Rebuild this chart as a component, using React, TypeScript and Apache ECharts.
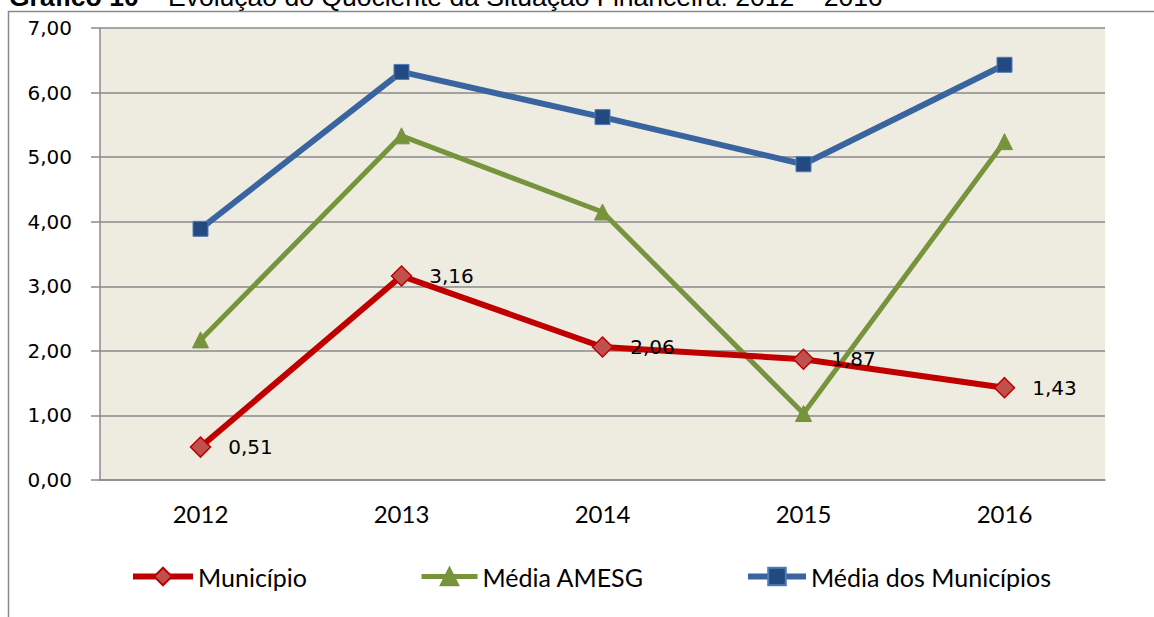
import React, { useEffect, useRef } from "react";
import * as echarts from "echarts";

const categories = ["2012", "2013", "2014", "2015", "2016"];
const municipio = [0.51, 3.16, 2.06, 1.87, 1.43];
const mediaAmesg = [2.17, 5.33, 4.15, 1.03, 5.24];
const mediaMunicipios = [3.89, 6.32, 5.62, 4.89, 6.43];
const seriesNames = ["Município", "Média AMESG", "Média dos Municípios"];

const fmt = (v: number) => v.toFixed(2).replace(".", ",");

export default function App() {
  const ref = useRef<HTMLDivElement>(null);
  useEffect(() => {
    if (!ref.current) return;
    const chart = echarts.init(ref.current, null, { renderer: "svg" });
    const legendText = { fontFamily: "Lato", fontSize: 25, color: "#000" };
    const legendBase = { top: 559, itemHeight: 22, itemGap: 0, textStyle: legendText };
    chart.setOption({
      animation: false,
      backgroundColor: "#ffffff",
      grid: { left: 100, right: 49, top: 28, bottom: 137, backgroundColor: "#EEECE1", show: true, borderWidth: 0 },
      graphic: [
        {
          type: "rect",
          shape: { x: 8.5, y: 11.5, width: 2000, height: 2000 },
          style: { fill: "none", stroke: "#8a8a8a", lineWidth: 1.5 },
          z: -1,
          silent: true,
        },
        {
          type: "text",
          x: 9,
          y: -3,
          style: {
            text: "{b|Gráfico 10} – Evolução do Quociente da Situação Financeira: 2012 – 2016",
            fontFamily: "Liberation Sans",
            fontSize: 26.5,
            fill: "#000",
            verticalAlign: "middle",
            rich: { b: { fontWeight: "bold", fontFamily: "Liberation Sans", fontSize: 26.5 } },
          },
        },
      ],
      legend: [
        { ...legendBase, data: [seriesNames[0]], left: 125, itemWidth: 60, lineStyle: { width: 6 } },
        { ...legendBase, data: [seriesNames[1]], left: 414, itemWidth: 56, lineStyle: { width: 5 } },
        { ...legendBase, data: [seriesNames[2]], left: 740, itemWidth: 58, lineStyle: { width: 6 } },
      ],
      xAxis: {
        type: "category",
        data: categories,
        boundaryGap: true,
        axisLine: { lineStyle: { color: "#8a8a8a", width: 1.5 } },
        axisTick: { show: false },
        axisLabel: { fontFamily: "Lato", fontSize: 24, color: "#000", margin: 21 },
      },
      yAxis: {
        type: "value",
        min: 0,
        max: 7,
        interval: 1,
        axisLine: { show: true, lineStyle: { color: "#8a8a8a", width: 1.5 } },
        axisTick: { show: true, length: 9, lineStyle: { color: "#8a8a8a", width: 1.5 } },
        splitLine: { lineStyle: { color: "#8a8a8a", width: 1.5 } },
        axisLabel: { fontFamily: "DejaVu Sans", fontSize: 20, color: "#000", margin: 28, formatter: (v: number) => fmt(v) },
      },
      series: [
        {
          name: seriesNames[0],
          type: "line",
          data: municipio,
          z: 4,
          lineStyle: { color: "#C00000", width: 6 },
          itemStyle: { color: "#C0504D", borderColor: "#C00000", borderWidth: 1.5 },
          symbol: "diamond",
          symbolSize: 20,
          label: {
            show: true,
            position: "right",
            distance: 17,
            fontFamily: "DejaVu Sans",
            fontSize: 20,
            color: "#000",
            formatter: (p: any) => fmt(p.value),
          },
        },
        {
          name: seriesNames[1],
          type: "line",
          data: mediaAmesg,
          z: 3,
          lineStyle: { color: "#77933C", width: 5 },
          itemStyle: { color: "#77933C", borderColor: "#77933C", borderWidth: 1 },
          symbol: "triangle",
          symbolSize: 16,
        },
        {
          name: seriesNames[2],
          type: "line",
          data: mediaMunicipios,
          z: 2,
          lineStyle: { color: "#3A64A0", width: 6 },
          itemStyle: { color: "#234A80", borderColor: "#4F7CB8", borderWidth: 1 },
          symbol: "rect",
          symbolSize: 15,
        },
      ],
    });
    return () => chart.dispose();
  }, []);
  return <div ref={ref} style={{ position: "fixed", left: 0, top: 0, width: 1154, height: 617 }} />;
}
